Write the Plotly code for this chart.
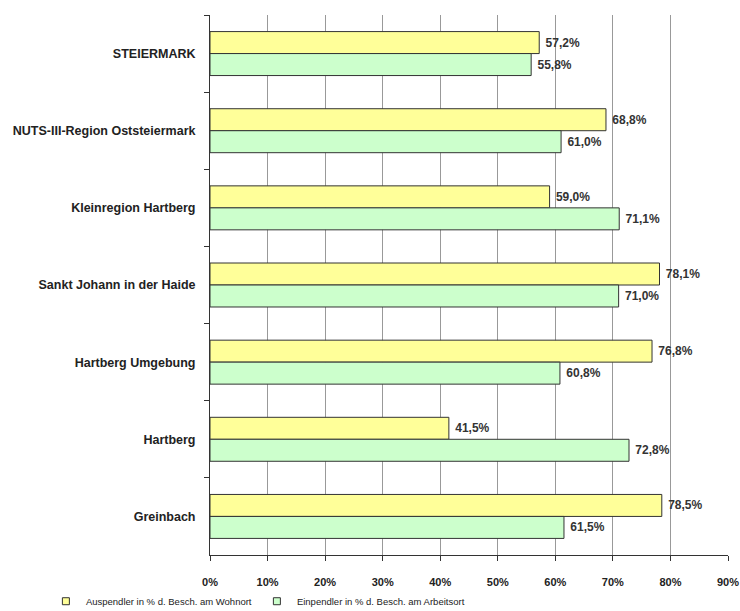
import plotly.graph_objects as go

categories = ["STEIERMARK", "NUTS-III-Region Oststeiermark", "Kleinregion Hartberg",
              "Sankt Johann in der Haide", "Hartberg Umgebung", "Hartberg", "Greinbach"]
auspendler = [57.2, 68.8, 59.0, 78.1, 76.8, 41.5, 78.5]
einpendler = [55.8, 61.0, 71.1, 71.0, 60.8, 72.8, 61.5]
series_names = ["Auspendler in % d. Besch. am Wohnort", "Einpendler in % d. Besch. am Arbeitsort"]
x_ticks = [0, 10, 20, 30, 40, 50, 60, 70, 80, 90]
x_ticklabels = [f"{t}%" for t in x_ticks]


def fmt(v):
    return " " + f"{v:.1f}%".replace(".", ",")


FONT = "Liberation Sans, Arial, sans-serif"
colors = ["#FFFF99", "#CCFFCC"]

fig = go.Figure()
for name, vals, color in [(series_names[0], auspendler, colors[0]),
                          (series_names[1], einpendler, colors[1])]:
    fig.add_trace(go.Bar(
        y=categories, x=vals, orientation="h", name=name, showlegend=False,
        marker=dict(color=color, line=dict(color="#333333", width=1)),
        text=[fmt(v) for v in vals], textposition="outside",
        textfont=dict(family=FONT, size=12, color="#333333", weight="bold"),
        cliponaxis=False,
    ))

# legend entries with small square keys
for name, color in zip(series_names, colors):
    fig.add_trace(go.Scatter(
        x=[None], y=[None], mode="markers", name=name,
        marker=dict(symbol="square", size=7, color=color,
                    line=dict(color="#333333", width=1)),
    ))

fig.update_layout(
    width=740, height=611,
    margin=dict(l=210, r=12, t=15, b=56, autoexpand=False),
    paper_bgcolor="white", plot_bgcolor="white",
    barmode="group", bargap=0.43, bargroupgap=0,
    font=dict(family=FONT, color="#222222"),
    showlegend=True,
    legend=dict(orientation="h", xref="container", yref="container",
                x=0.062, y=0.016, xanchor="left", yanchor="middle",
                font=dict(size=9.5, color="#222222"), entrywidth=166,
                itemwidth=30, traceorder="normal", tracegroupgap=0),
    xaxis=dict(range=[0, 90], tickvals=x_ticks, ticktext=x_ticklabels,
               showgrid=True, gridcolor="#999999", gridwidth=1,
               showline=True, linecolor="#333333", linewidth=1,
               ticks="outside", ticklen=5, tickcolor="#333333",
               tickfont=dict(family=FONT, size=11, color="#222222", weight="bold"),
               ticklabelstandoff=12, zeroline=False, fixedrange=True,
               automargin=False),
    yaxis=dict(autorange="reversed", showline=True, linecolor="#333333", linewidth=1,
               ticks="outside", ticklen=5, tickcolor="#333333", tickson="boundaries",
               tickfont=dict(family=FONT, size=12.5, color="#222222", weight="bold"),
               ticklabelstandoff=11, showgrid=False, fixedrange=True,
               automargin=False),
)

fig.write_html("out.html")
